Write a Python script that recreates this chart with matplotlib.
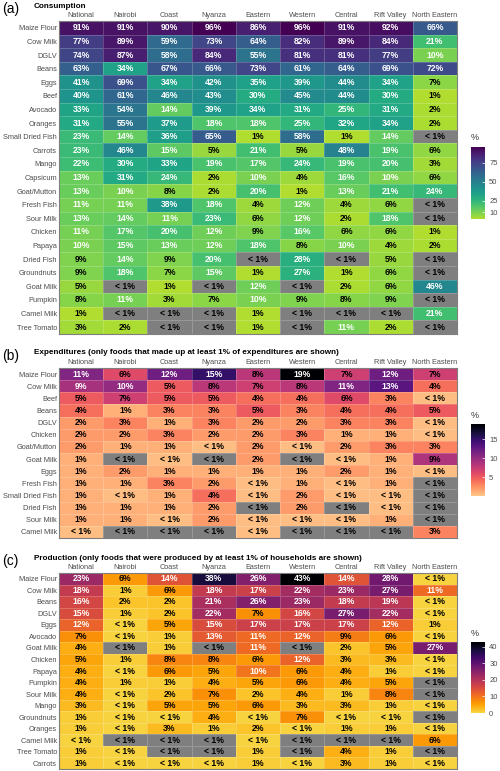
import numpy as np
import matplotlib
matplotlib.use("Agg")
from matplotlib import pyplot as plt
from matplotlib.colors import ListedColormap

plt.rcParams['font.family'] = ['Liberation Sans', 'DejaVu Sans']

regions = ['National', 'Nairobi', 'Coast', 'Nyanza', 'Eastern', 'Western',
           'Central', 'Rift Valley', 'North Eastern']

# None = no value (grey cell), L = below 1% but still coloured
N = None
L = 0.4

# (a) consumption, % of households
cons_foods = ['Maize Flour', 'Cow Milk', 'DGLV', 'Beans', 'Eggs', 'Beef', 'Avocado',
              'Oranges', 'Small Dried Fish', 'Carrots', 'Mango', 'Capsicum',
              'Goat/Mutton', 'Fresh Fish', 'Sour Milk', 'Chicken', 'Papaya',
              'Dried Fish', 'Groundnuts', 'Goat Milk', 'Pumpkin', 'Camel Milk',
              'Tree Tomato']
cons_vals = [
    [91, 91, 90, 96, 86, 96, 91, 92, 66],
    [77, 89, 59, 73, 64, 82, 89, 84, 21],
    [74, 87, 58, 84, 55, 81, 81, 77, 10],
    [63, 34, 67, 66, 73, 61, 64, 69, 72],
    [41, 69, 34, 42, 35, 39, 44, 34, 7],
    [40, 61, 46, 43, 30, 45, 44, 30, 1],
    [33, 54, 14, 39, 34, 31, 25, 31, 2],
    [31, 55, 37, 18, 18, 25, 32, 34, 2],
    [23, 14, 36, 65, 1, 58, 1, 14, N],
    [23, 46, 15, 5, 21, 5, 48, 19, 6],
    [22, 30, 33, 19, 17, 24, 19, 20, 3],
    [13, 31, 24, 2, 10, 4, 16, 10, 6],
    [13, 10, 8, 2, 20, 1, 13, 21, 24],
    [11, 11, 38, 18, 4, 12, 4, 6, N],
    [13, 14, 11, 23, 6, 12, 2, 18, N],
    [11, 17, 20, 12, 9, 16, 6, 6, 1],
    [10, 15, 13, 12, 18, 8, 10, 4, 2],
    [9, 14, 9, 20, N, 28, N, 5, N],
    [9, 18, 7, 15, 1, 27, 1, 6, N],
    [5, N, 1, N, 12, N, 2, 6, 46],
    [8, 11, 3, 7, 10, 9, 8, 9, N],
    [1, N, N, N, 1, N, N, N, 21],
    [3, 2, N, N, 1, N, 11, 2, N],
]

# (b) expenditures, % of expenditures
exp_foods = ['Maize Flour', 'Cow Milk', 'Beef', 'Beans', 'DGLV', 'Chicken',
             'Goat/Mutton', 'Goat Milk', 'Eggs', 'Fresh Fish', 'Small Dried Fish',
             'Dried Fish', 'Sour Milk', 'Camel Milk']
exp_vals = [
    [11, 6, 12, 15, 8, 19, 7, 12, 7],
    [9, 10, 5, 8, 7, 8, 11, 13, 4],
    [5, 7, 5, 5, 4, 4, 6, 3, L],
    [4, 1, 3, 3, 5, 3, 4, 4, 5],
    [2, 3, 1, 3, 2, 2, 3, 3, L],
    [2, 2, 3, 2, 2, 3, 1, 1, L],
    [2, 1, 1, L, 2, L, 2, 3, 3],
    [1, N, L, N, 2, N, L, 1, 8.6],
    [1, 2, 1, 1, 1, 1, 2, 1, L],
    [1, 1, 3, 2, L, 1, L, 1, N],
    [1, L, 1, 4, L, 2, L, L, N],
    [1, 1, 1, 2, N, 2, N, L, N],
    [1, 1, L, 2, L, L, L, 1, N],
    [L, N, N, N, L, N, N, N, 3],
]

# (c) production, % of households
prod_foods = ['Maize Flour', 'Cow Milk', 'Beans', 'DGLV', 'Eggs', 'Avocado',
              'Goat Milk', 'Chicken', 'Papaya', 'Pumpkin', 'Sour Milk', 'Mango',
              'Groundnuts', 'Oranges', 'Camel Milk', 'Tree Tomato', 'Carrots']
prod_vals = [
    [23, 6, 14, 38, 26, 43, 14, 28, L],
    [18, 1, 6, 18, 17, 22, 23, 27, 11],
    [16, 2, 2, 21, 26, 23, 18, 19, L],
    [15, 1, 2, 22, 7, 16, 27, 22, L],
    [12, L, 5, 15, 17, 17, 17, 12, 1],
    [7, L, 1, 13, 11, 12, 9, 6, L],
    [4, N, 1, N, 11, N, 2, 5, 27],
    [5, 1, 8, 8, 6, 12, 3, 3, L],
    [4, L, 6, 5, 10, 6, 4, 1, L],
    [4, 1, 1, 4, 5, 6, 4, 5, N],
    [4, L, 2, 7, 2, 4, 1, 8, N],
    [3, L, 5, 5, 6, 3, 3, 1, L],
    [1, L, L, 4, L, 7, L, L, N],
    [1, L, 3, 1, 2, L, 1, 1, L],
    [L, N, N, N, L, N, N, N, 6],
    [1, L, N, N, 1, N, 4, 1, N],
    [1, L, L, L, 1, L, 3, 1, L],
]


def trunc(name, start, stop):
    cm = ListedColormap(plt.get_cmap(name)(np.linspace(start, stop, 256)))
    cm.set_bad('#7f7f7f')
    return cm


fig = plt.figure(figsize=(5.0, 7.71), dpi=100)
W, H = 500.0, 771.0

panels = [
    # tag, title, foods, values, cmap, vmin, vmax, white-text threshold, ticks, px boxes
    ('(a)', 'Consumption', cons_foods, cons_vals, trunc('viridis', 0.88, 0.0),
     1, 96, 9.5, [10, 25, 50, 75], (21, 334), (147, 219)),
    ('(b)', 'Expenditures (only foods that made up at least 1% of expenditures are shown)',
     exp_foods, exp_vals, trunc('magma', 0.88, 0.0), 0, 19, 8.8, [5, 10, 15],
     (368, 538), (424, 496)),
    ('(c)', 'Production (only foods that were produced by at least 1% of households are shown)',
     prod_foods, prod_vals, trunc('inferno', 0.9, 0.0), 0, 43, 9.5, [0, 10, 20, 30, 40],
     (573, 769), (642, 713)),
]

x0, x1 = 59, 457
for tag, title, foods, vals, cmap, vmin, vmax, thr, cticks, (ytop, ybot), (ctop, cbot) in panels:
    arr = np.array([[np.nan if v is None else v for v in row] for row in vals], dtype=float)
    data = np.ma.masked_invalid(arr)
    ax = fig.add_axes([x0 / W, 1 - ybot / H, (x1 - x0) / W, (ybot - ytop) / H])
    mesh = ax.pcolormesh(np.arange(len(regions) + 1) - 0.5, np.arange(len(foods) + 1) - 0.5,
                         data, cmap=cmap, vmin=vmin, vmax=vmax,
                         edgecolor=(1, 1, 1, 0.2), linewidth=0.4)
    ax.set_xlim(-0.5, len(regions) - 0.5)
    ax.set_ylim(len(foods) - 0.5, -0.5)
    ax.xaxis.tick_top()
    ax.set_xticks(range(len(regions)))
    ax.set_xticklabels(regions, fontsize=5.3, color='#4d4d4d')
    ax.set_yticks(range(len(foods)))
    ax.set_yticklabels(foods, fontsize=5.3, color='#4d4d4d')
    ax.tick_params(length=0, pad=1.5)
    for s in ax.spines.values():
        s.set_color('#7f7f7f')
        s.set_linewidth(0.8)

    for i, row in enumerate(vals):
        for j, v in enumerate(row):
            if v is None or v < 1:
                lab = '< 1%'
            else:
                lab = '%d%%' % round(v)
            col = 'white' if (v is not None and v >= thr) else 'black'
            ax.text(j, i, lab, ha='center', va='center', fontsize=6.2,
                    fontweight='bold', color=col)

    fig.text(2 / W, 1 - (ytop - 12) / H, tag, fontsize=10, ha='left', va='center')
    fig.text(34 / W, 1 - (ytop - 15) / H, title, fontsize=5.9, fontweight='bold',
             ha='left', va='center')

    cax = fig.add_axes([471 / W, 1 - cbot / H, 14 / W, (cbot - ctop) / H])
    cb = fig.colorbar(mesh, cax=cax)
    cb.outline.set_visible(False)
    cb.set_ticks(cticks)
    cax.tick_params(labelsize=5.5, labelcolor='#4d4d4d', color='white',
                    length=2.5, width=0.5, direction='in', pad=3)
    fig.text(471 / W, 1 - (ctop - 9) / H, '%', fontsize=6.5, color='#333333',
             ha='left', va='center')

fig.savefig('out.png', dpi=100)
